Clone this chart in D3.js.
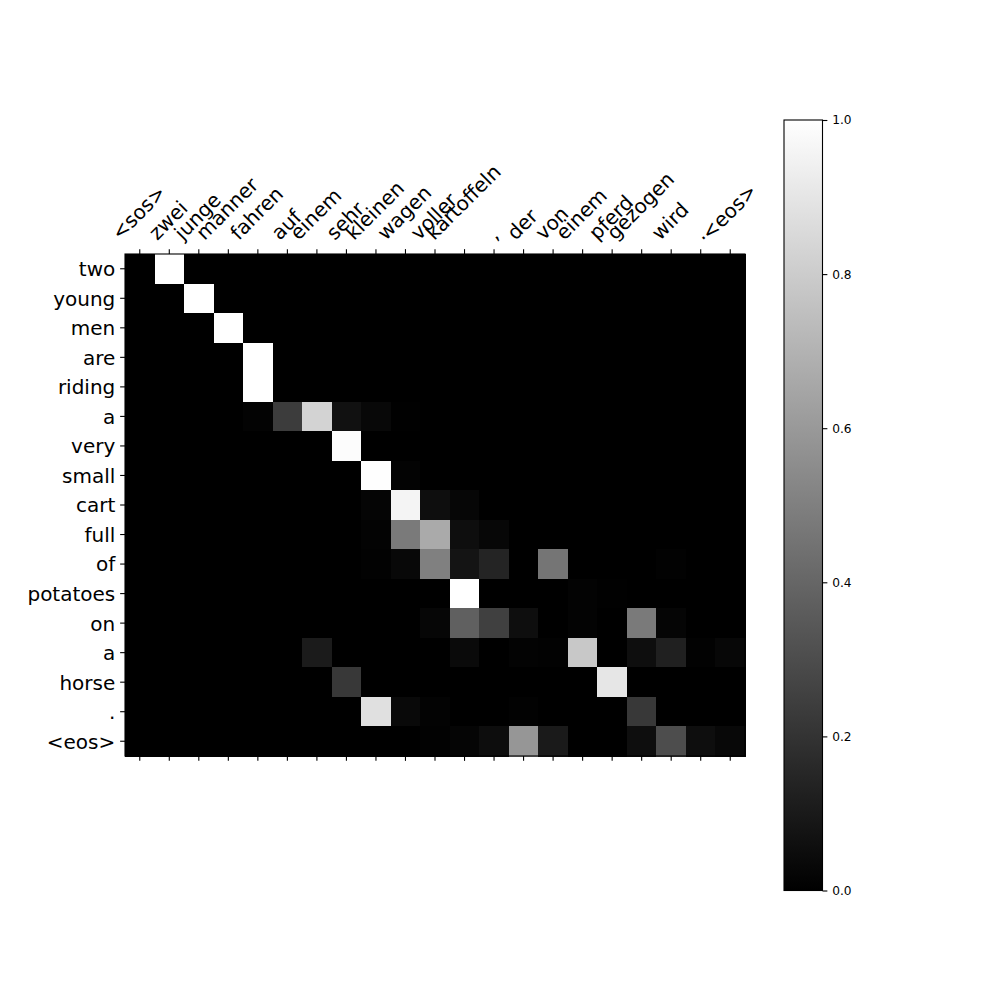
<!DOCTYPE html>
<html><head><meta charset="utf-8">
<script src="https://cdn.jsdelivr.net/npm/d3@7"></script>
<style>body{margin:0;background:#fff}</style>
</head><body><svg id="chart" width="1000" height="1000"></svg>
<script>
// ---- data ----
const sourceTokens = ["<sos>","zwei","junge","manner","fahren","auf","einem","sehr","kleinen","wagen","voller","kartoffeln",",","der","von","einem","pferd","gezogen","wird",".","<eos>"];
const targetTokens = ["two","young","men","are","riding","a","very","small","cart","full","of","potatoes","on","a","horse",".","<eos>"];
// attention weights: one row per target token, one column per source token
const attention = [
  [0,1,0,0,0,0,0,0,0,0,0,0,0,0,0,0,0,0,0,0,0],
  [0,0,1,0,0,0,0,0,0,0,0,0,0,0,0,0,0,0,0,0,0],
  [0,0,0,1,0,0,0,0,0,0,0,0,0,0,0,0,0,0,0,0,0],
  [0,0,0,0,1,0,0,0,0,0,0,0,0,0,0,0,0,0,0,0,0],
  [0,0,0,0,1,0,0,0,0,0,0,0,0,0,0,0,0,0,0,0,0],
  [0,0,0,0,0.012,0.235,0.827,0.067,0.03,0.005,0,0,0,0,0,0,0,0,0,0,0],
  [0,0,0,0,0,0,0,0.99,0,0,0,0,0,0,0,0,0,0,0,0,0],
  [0,0,0,0,0,0,0,0,0.995,0.012,0,0,0,0,0,0,0,0,0,0,0],
  [0,0,0,0,0,0,0,0,0.02,0.957,0.055,0.024,0,0,0,0,0,0,0,0,0],
  [0,0,0,0,0,0,0,0,0.01,0.478,0.667,0.055,0.027,0,0,0,0,0,0,0,0],
  [0,0,0,0,0,0,0,0,0.008,0.03,0.5,0.08,0.14,0,0.46,0,0,0,0.008,0,0],
  [0,0,0,0,0,0,0,0,0,0,0,1,0,0,0,0.01,0.005,0,0,0,0],
  [0,0,0,0,0,0,0,0,0,0,0.022,0.376,0.25,0.055,0,0.012,0,0.478,0.02,0,0],
  [0,0,0,0,0,0,0.106,0,0,0,0,0.04,0,0.012,0.008,0.784,0,0.055,0.125,0.008,0.027],
  [0,0,0,0,0,0,0,0.22,0,0,0,0,0,0,0,0,0.9,0,0,0,0],
  [0,0,0,0,0,0,0,0,0.878,0.035,0.012,0,0,0.008,0,0,0,0.22,0,0,0],
  [0,0,0,0,0,0,0,0,0,0,0.008,0.02,0.05,0.59,0.1,0,0,0.055,0.3,0.055,0.03]
];
const colorbarTicks = [0,0.2,0.4,0.6,0.8,1.0];

// ---- layout ----
const svg = d3.select('#chart');
svg.append('rect').attr('width',1000).attr('height',1000).attr('fill','#fff');
const L = 125, R = 745, T = 254, B = 756;
const tick = 4.86, pad = 4.86;
const font = 'DejaVu Sans, sans-serif';

const x = d3.scaleBand().domain(d3.range(sourceTokens.length)).range([L, R]);
const y = d3.scaleBand().domain(d3.range(targetTokens.length)).range([T, B]);
const color = d3.scaleLinear().domain([0, 1]).range(['#000000', '#ffffff']).clamp(true);

const cells = [];
attention.forEach((row, r) => row.forEach((v, c) => cells.push({r, c, v})));
svg.append('g').attr('shape-rendering','crispEdges')
  .selectAll('rect').data(cells).join('rect')
  .attr('x', d => x(d.c)).attr('y', d => y(d.r))
  .attr('width', x.bandwidth() + 0.6).attr('height', y.bandwidth() + 0.6)
  .attr('fill', d => color(d.v));

svg.append('rect').attr('x', L).attr('y', T).attr('width', R - L).attr('height', B - T)
  .attr('fill','none').attr('stroke','#000').attr('stroke-width',1.1);

// top axis with rotated labels
const gTop = svg.append('g').attr('transform', `translate(0,${T})`)
  .call(d3.axisTop(x).tickSize(tick).tickSizeOuter(0).tickFormat(i => sourceTokens[i]));
gTop.select('.domain').remove();
gTop.selectAll('line').attr('stroke','#000').attr('stroke-width',1.1);
gTop.selectAll('text')
  .attr('font-family', font).attr('font-size', 20).attr('fill','#000')
  .attr('text-anchor','middle').attr('x',0).attr('y',0).attr('dy','0.262em')
  .each(function() {
    const w = this.getComputedTextLength();
    const h = 0.996 * 20;
    const s = (w + h) / Math.SQRT2;
    d3.select(this).attr('transform', `translate(0,${-(tick + pad) - s / 2}) rotate(-45)`);
  });

// bottom ticks, no labels
const gBot = svg.append('g').attr('transform', `translate(0,${B})`)
  .call(d3.axisBottom(x).tickSize(tick).tickSizeOuter(0).tickFormat(''));
gBot.select('.domain').remove();
gBot.selectAll('line').attr('stroke','#000').attr('stroke-width',1.1);

// left axis
const gLeft = svg.append('g').attr('transform', `translate(${L},0)`)
  .call(d3.axisLeft(y).tickSize(tick).tickPadding(pad).tickSizeOuter(0).tickFormat(i => targetTokens[i]));
gLeft.select('.domain').remove();
gLeft.selectAll('line').attr('stroke','#000').attr('stroke-width',1.1);
gLeft.selectAll('text').attr('font-family', font).attr('font-size', 20).attr('fill','#000').attr('dy','0.37em');

// colorbar
const cbX = 784, cbW = 38.5, cbT = 120, cbB = 890.5;
const defs = svg.append('defs');
const grad = defs.append('linearGradient').attr('id','cbgrad').attr('x1',0).attr('y1',1).attr('x2',0).attr('y2',0);
grad.append('stop').attr('offset','0%').attr('stop-color', color(0));
grad.append('stop').attr('offset','100%').attr('stop-color', color(1));
svg.append('rect').attr('x', cbX).attr('y', cbT).attr('width', cbW).attr('height', cbB - cbT)
  .attr('fill','url(#cbgrad)').attr('stroke','#000').attr('stroke-width',1.1);
const cy = d3.scaleLinear().domain([0, 1]).range([cbB, cbT]);
const gCb = svg.append('g').attr('transform', `translate(${cbX + cbW},0)`)
  .call(d3.axisRight(cy).tickValues(colorbarTicks).tickSize(tick).tickPadding(pad).tickSizeOuter(0).tickFormat(d3.format('.1f')));
gCb.select('.domain').remove();
gCb.selectAll('line').attr('stroke','#000').attr('stroke-width',1.1);
gCb.selectAll('text').attr('font-family', font).attr('font-size', 12.2).attr('fill','#000');
</script>
</body></html>
